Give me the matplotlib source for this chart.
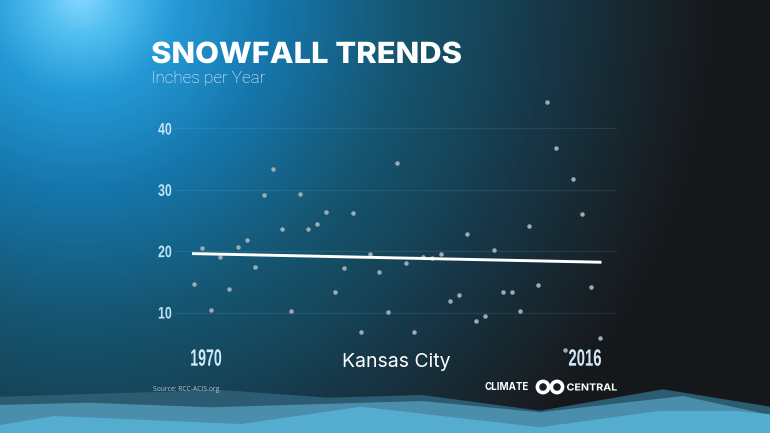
import numpy as np
import matplotlib
matplotlib.use("Agg")
import matplotlib.pyplot as plt
from matplotlib.colors import LinearSegmentedColormap
from matplotlib.patches import Polygon, Circle
from matplotlib.patheffects import AbstractPathEffect
from matplotlib.transforms import Affine2D

W, H = 770, 433

# Snowfall per year
years = list(range(1970, 2017))
snow = [14.6, 20.5, 10.4, 19.1, 13.9, 20.7, 21.8, 17.4, 29.2, 33.4,
        23.6, 10.2, 29.3, 23.6, 24.4, 26.4, 13.3, 17.3, 26.3, 6.8,
        19.5, 16.6, 10.1, 34.3, 18.0, 6.8, 19.1, 18.9, 19.5, 11.8,
        12.9, 22.8, 8.6, 9.4, 20.2, 13.3, 13.3, 10.2, 24.1, 14.5,
        44.3, 36.9, 3.9, 31.8, 26.1, 14.2, 5.8]
trend_years = [1970, 2016]
trend_vals = [19.6, 18.2]
y_ticks = [10, 20, 30, 40]

# Background wave outlines
wave_x = [[0, 221, 329, 422, 540, 663, 770],
          [0, 88, 211, 422, 540, 683, 770],
          [0, 54, 241, 361, 540, 658, 737, 770]]
wave_y = [[396.7, 390, 397.7, 395, 410.7, 389.3, 406.7],
          [405, 402.7, 407.3, 401, 412.3, 396, 415],
          [425, 416, 424, 406.7, 427.3, 411, 411, 414.3]]
wave_colors = ["#2c5c72", "#4a8eac", "#54adcf"]


# no condensed font installed, so stretch the glyphs sideways around x = cx
class Squeeze(AbstractPathEffect):
    def __init__(self, cx, sx):
        super().__init__()
        self.cx = cx
        self.sx = sx

    def draw_path(self, renderer, gc, tpath, affine, rgbFace=None):
        sq = Affine2D().translate(-self.cx, 0).scale(self.sx, 1).translate(self.cx, 0)
        renderer.draw_path(gc, tpath, affine + sq, rgbFace)


fig = plt.figure(figsize=(W / 100, H / 100), dpi=100)

# full-figure layer in pixel coords
bg = fig.add_axes([0, 0, 1, 1])
bg.set_xlim(0, W)
bg.set_ylim(H, 0)
bg.axis("off")

xx, yy = np.meshgrid(np.arange(W), np.arange(H))
dist = np.hypot((xx - 80) / 640, (yy + 5) / 640)
cmap = LinearSegmentedColormap.from_list("glow", [
    (0.0, "#86d8ff"), (0.06, "#52bff0"), (0.15, "#2499d6"), (0.3, "#1677ad"),
    (0.5, "#155672"), (0.62, "#16475c"), (0.74, "#173647"), (0.86, "#182830"),
    (0.95, "#171d22"), (1.0, "#15181b")])
bg.imshow(np.clip(dist, 0, 1), cmap=cmap, vmin=0, vmax=1, extent=[0, W, H, 0], aspect="auto")

for wx, wy, c in zip(wave_x, wave_y, wave_colors):
    pts = list(zip(wx, wy)) + [(W, H), (0, H)]
    bg.add_patch(Polygon(pts, closed=True, color=c, lw=0))

bg.text(151, 63, "SNOWFALL TRENDS", color="white", fontsize=21, family="Inter", weight=800, va="baseline",
        path_effects=[Squeeze(151, 1.06)])
bg.text(151, 83, "Inches per Year", color="white", fontsize=12.3, family="Roboto", weight="light", va="baseline")
bg.text(396, 367, "Kansas City", color="white", fontsize=14, family="Inter", ha="center", va="baseline")
bg.text(153, 391, "Source: RCC-ACIS.org", color="#b5c4cc", fontsize=4.9, family="Open Sans", va="baseline")
bg.text(206, 365.7, "1970", color="#cfe9f8", fontsize=17, family="Liberation Sans", weight="bold",
        ha="center", va="baseline", path_effects=[Squeeze(206, 0.6)])
bg.text(585, 365.7, "2016", color="#cfe9f8", fontsize=17, family="Liberation Sans", weight="bold",
        ha="center", va="baseline", path_effects=[Squeeze(585, 0.63)])

# logo
bg.text(529, 390.5, "CLIMATE", color="white", fontsize=7, family="Inter", weight="bold", ha="right", va="baseline")
bg.text(566.5, 390.5, "CENTRAL", color="white", fontsize=7, family="Inter", weight="bold", ha="left", va="baseline",
        path_effects=[Squeeze(566.5, 1.1)])
for cx in (543, 557):
    bg.add_patch(Circle((cx, 387), 5.6, fill=False, ec="white", lw=2.6))

# data axes, placed so years and inches land on the reference pixels
px_yr = (600 - 193.5) / 46
px_in = (312.5 - 128.5) / 30
left, right, top, bottom = 175, 617, 100, 372
ax = fig.add_axes([left / W, 1 - bottom / H, (right - left) / W, (bottom - top) / H])
ax.patch.set_alpha(0)
ax.set_xlim(1970 - (193.5 - left) / px_yr, 1970 + (right - 193.5) / px_yr)
ax.set_ylim(10 - (bottom - 312.5) / px_in, 10 + (312.5 - top) / px_in)
for s in ax.spines.values():
    s.set_visible(False)
ax.set_xticks([])
ax.set_yticks(y_ticks)
ax.tick_params(axis="y", length=0, pad=2.5, labelcolor="#bfe4f8", labelsize=12)
for lab in ax.get_yticklabels():
    lab.set_family("Liberation Sans")
    lab.set_weight("bold")
    lab.set_path_effects([Squeeze(172, 0.74)])
ax.grid(axis="y", color="#9fd0e8", alpha=0.11, lw=0.8)
ax.set_axisbelow(True)

ax.scatter(years, snow, s=10.5, color="#9dacb4", lw=0, zorder=2, clip_on=False)
ax.plot(trend_years, trend_vals, color="white", lw=2.1, zorder=3, solid_capstyle="projecting")

fig.savefig("out.png", dpi=100)
